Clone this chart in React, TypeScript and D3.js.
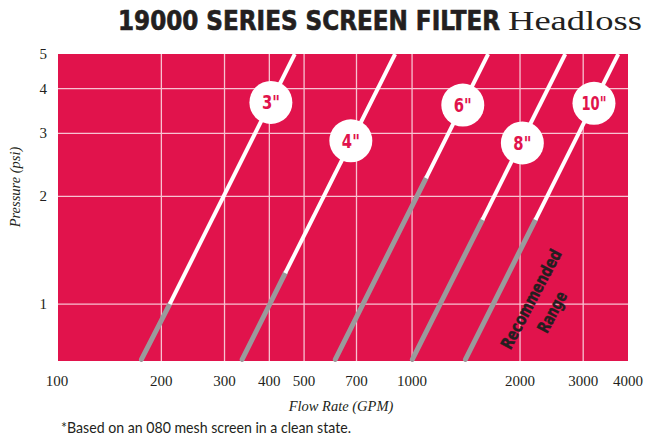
import React from 'react';
import * as d3 from 'd3';

// ---- data ----
const sizes = ['3"', '4"', '6"', '8"', '10"'];
// flow (GPM) where each line enters at the bottom of the chart (0.7 psi)
const flowLow = [176, 336, 611, 1002, 1409];
const pressureLow = [0.7, 0.7, 0.7, 0.7, 0.7];
// end of the recommended (grey) range
const flowRangeEnd = [211, 443, 1094, 1571, 2208];
const pressureRangeEnd = [1.0, 1.22, 2.25, 1.72, 1.72];
// flow where each line leaves the top of the chart (5 psi)
const flowHigh = [471, 897, 1630, 2674, 3758];
const pressureHigh = [5, 5, 5, 5, 5];
// label bubble positions on each line
const labelFlow = [404, 675, 1385, 2030, 3215];
const labelPressure = [3.66, 2.86, 3.6, 2.82, 3.64];

const xTicks = [100, 200, 300, 400, 500, 700, 1000, 2000, 3000, 4000];
const xGrid = [200, 300, 400, 500, 700, 1000, 2000, 3000];
const yTicks = [1, 2, 3, 4, 5];
const yGrid = [1, 2, 3, 4];

const RED = '#E1134C';
const GRID = '#F8C2D1';
const GREY = '#9A9A9C';
const DARK = '#231F20';
const COND = "'Liberation Sans Narrow', 'DejaVu Sans Condensed', 'Roboto Condensed', 'DejaVu Sans', sans-serif";
const SERIF = "'Liberation Serif', 'DejaVu Serif', serif";

export default function App() {
  const W = 645, H = 439;
  const left = 58, right = 628, top = 54, bottom = 361;
  const x = d3.scaleLog().domain([103, 4000]).range([left, right]);
  const y = d3.scaleLog().domain([0.693, 5]).range([bottom, top]);
  const line = d3.line<[number, number]>().x(d => x(d[0])).y(d => y(d[1]));

  return (
    <svg width={W} height={H} style={{ position: 'absolute', left: 0, top: 0, background: '#fff' }}>
      <defs>
        <clipPath id="plot">
          <rect x={left} y={top} width={right - left} height={bottom - top + 4} />
        </clipPath>
      </defs>
      {/* title */}
      <text x={118} y={30} fontFamily={COND} fontWeight={700} fontSize={26} fill={DARK}
        textLength={382} lengthAdjust="spacingAndGlyphs" stroke={DARK} strokeWidth={0.6}>19000 SERIES SCREEN FILTER</text>
      <text x={508} y={30} fontFamily={SERIF} fontSize={27} fill={DARK}
        textLength={134} lengthAdjust="spacingAndGlyphs">Headloss</text>

      {/* plot background */}
      <rect x={left} y={top} width={right - left} height={bottom - top} fill={RED} />
      {xGrid.map(v => (
        <line key={'gx' + v} x1={x(v)} x2={x(v)} y1={top} y2={bottom} stroke={GRID} strokeWidth={1.3} />
      ))}
      {yGrid.map(v => (
        <line key={'gy' + v} x1={left} x2={right} y1={y(v)} y2={y(v)} stroke={GRID} strokeWidth={1.3} />
      ))}

      {/* lines */}
      {sizes.map((s, i) => (
        <g key={'l' + s}>
          <path d={line([[flowLow[i], pressureLow[i]], [flowRangeEnd[i], pressureRangeEnd[i]]]) || ''}
            stroke={GREY} strokeWidth={5} strokeLinecap="round" fill="none" />
          <path clipPath="url(#plot)"
            d={line([[flowRangeEnd[i], pressureRangeEnd[i]], [flowHigh[i], pressureHigh[i]]]) || ''}
            stroke="#fff" strokeWidth={4} fill="none" />
        </g>
      ))}

      {/* bubbles */}
      {sizes.map((s, i) => (
        <g key={'b' + s} transform={`translate(${x(labelFlow[i])},${y(labelPressure[i])})`}>
          <circle r={21.5} fill="#fff" />
          <text y={7} textAnchor="middle" fontFamily={COND} fontWeight={700} fontSize={20} fill={RED}
            textLength={s.length === 3 ? 25 : 18} lengthAdjust="spacingAndGlyphs">{s}</text>
        </g>
      ))}

      {/* recommended range */}
      <g transform="translate(531,299) rotate(-62)">
        <text x={0} y={6} textAnchor="middle" fontFamily={COND} fontWeight={700} fontSize={17} fill={DARK}
          stroke={DARK} strokeWidth={0.4}
          textLength={110} lengthAdjust="spacingAndGlyphs">Recommended</text>
      </g>
      <g transform="translate(552,312) rotate(-62)">
        <text x={0} y={6} textAnchor="middle" fontFamily={COND} fontWeight={700} fontSize={17} fill={DARK}
          stroke={DARK} strokeWidth={0.4}
          textLength={44} lengthAdjust="spacingAndGlyphs">Range</text>
      </g>

      {/* axes labels */}
      {yTicks.map(v => (
        <text key={'yt' + v} x={47} y={y(v) + 5} textAnchor="end" fontFamily={SERIF} fontSize={15} fill={DARK}>{v}</text>
      ))}
      {xTicks.map(v => (
        <text key={'xt' + v} x={v === 100 ? 57 : x(v)} y={386} textAnchor="middle" fontFamily={SERIF} fontSize={15} fill={DARK}>{v}</text>
      ))}
      <text transform="translate(20,187) rotate(-90)" textAnchor="middle" fontFamily={SERIF} fontStyle="italic" fontSize={14.5} fill={DARK}>Pressure (psi)</text>
      <text x={341} y={411} textAnchor="middle" fontFamily={SERIF} fontStyle="italic" fontSize={14.5} fill={DARK}>Flow Rate (GPM)</text>
      <text x={61} y={433} fontFamily="Lato, 'Open Sans', sans-serif" fontSize={15} fill={DARK}
        textLength={290} lengthAdjust="spacingAndGlyphs">*Based on an 080 mesh screen in a clean state.</text>
    </svg>
  );
}
